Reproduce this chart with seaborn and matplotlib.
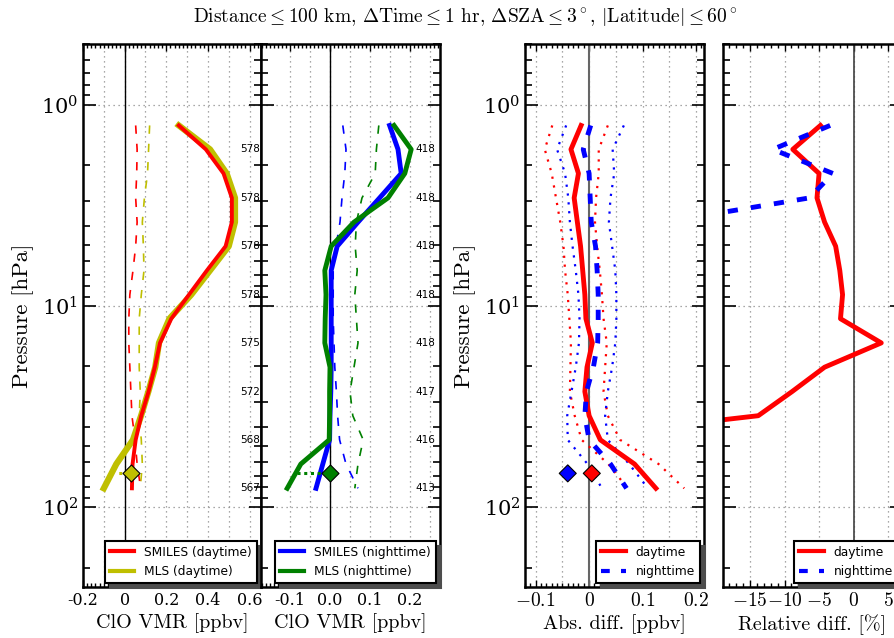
import numpy as np
import seaborn as sns
import matplotlib.pyplot as plt
from matplotlib.lines import Line2D
from matplotlib.ticker import MultipleLocator, LogLocator, NullFormatter

# pressure levels [hPa] of the profiles
pressure = [1.27, 1.67, 2.2, 2.91, 3.84, 5.06, 6.68, 8.81, 11.6, 15.3, 20.2, 26.7, 35.2, 46.4, 61.2, 80.8]

# panel 1: daytime ClO [ppbv]
smiles_day = [0.26, 0.39, 0.475, 0.515, 0.515, 0.485, 0.395, 0.309, 0.224, 0.17, 0.145, 0.115, 0.08, 0.053, 0.038, 0.035]
mls_day = [0.26, 0.41, 0.49, 0.53, 0.53, 0.50, 0.41, 0.32, 0.215, 0.165, 0.147, 0.114, 0.079, 0.04, -0.04, -0.1]
smiles_day_err = [0.053, 0.06, 0.058, 0.053, 0.06, 0.053, 0.04, 0.025, 0.02, 0.02, 0.025, 0.03, 0.035, 0.05, 0.06, 0.077]
mls_day_err = [0.12, 0.115, 0.11, 0.095, 0.085, 0.09, 0.093, 0.08, 0.07, 0.07, 0.07, 0.075, 0.07, 0.08, 0.085, 0.075]
n_day = [578, 578, 578, 578, 575, 572, 568, 567]

# panel 2: nighttime ClO [ppbv]
smiles_night = [0.149, 0.17, 0.178, 0.124, 0.07, 0.018, 0.003, 0.003, 0.003, 0.003, 0.003, 0.002, 0.0, -0.001, -0.018, -0.035]
mls_night = [0.16, 0.203, 0.187, 0.145, 0.06, 0.003, -0.013, -0.01, -0.012, -0.013, 0.0, -0.001, -0.001, -0.002, -0.073, -0.107]
smiles_night_err = [0.032, 0.04, 0.037, 0.03, 0.025, 0.015, 0.008, 0.008, 0.008, 0.01, 0.012, 0.016, 0.019, 0.024, 0.04, 0.07]
mls_night_err = [0.122, 0.116, 0.113, 0.08, 0.066, 0.063, 0.068, 0.062, 0.066, 0.07, 0.06, 0.05, 0.057, 0.083, 0.07, 0.062]
n_night = [418, 418, 418, 418, 418, 417, 416, 413]

# panel 3: absolute difference [ppbv]
abs_day = [-0.015, -0.034, -0.02, -0.028, -0.022, -0.016, -0.012, -0.008, -0.006, 0.006, -0.004, -0.008, 0.0, 0.021, 0.085, 0.125]
abs_day_lo = [-0.069, -0.083, -0.07, -0.062, -0.054, -0.048, -0.045, -0.04, -0.037, -0.034, -0.035, -0.036, -0.027, -0.014, 0.036, 0.072]
abs_day_hi = [0.035, 0.018, 0.018, 0.013, 0.011, 0.015, 0.02, 0.024, 0.027, 0.033, 0.03, 0.027, 0.035, 0.058, 0.13, 0.178]
abs_night = [0.003, -0.011, 0.0, 0.002, 0.004, 0.012, 0.015, 0.017, 0.017, 0.016, 0.008, -0.005, -0.008, 0.0, 0.04, 0.07]
abs_night_lo = [-0.043, -0.06, -0.045, -0.039, -0.036, -0.031, -0.025, -0.02, -0.018, -0.019, -0.025, -0.033, -0.041, -0.04, -0.003, 0.024]
abs_night_hi = [0.065, 0.044, 0.047, 0.04, 0.037, 0.043, 0.049, 0.051, 0.051, 0.049, 0.043, 0.035, 0.03, 0.035, 0.075, 0.11]

# panel 4: relative difference [%]
rel_day = [-4.8, -8.8, -5.0, -5.3, -4.2, -2.6, -2.0, -1.6, -1.9, 4.0, -4.2, -8.9, -13.8, -44.0, np.nan, np.nan]
rel_night = [-3.4, -11.7, -3.0, -6.4, -27.4] + [np.nan] * 11

# values at 68 hPa (diamonds)
p68 = 68.1
mls_day_68 = -0.075
mls_night_68 = -0.083
diamond_p1 = 0.03
diamond_p2 = 0.0
diamond_abs_day = 0.005
diamond_abs_night = -0.04

plt.rcParams['font.family'] = 'DejaVu Serif'
plt.rcParams['mathtext.fontset'] = 'cm'
plt.rcParams['axes.unicode_minus'] = False

fig = plt.figure(figsize=(8.94, 6.38), dpi=100)
W, H = 894.0, 638.0
bot, top = 587, 44


def make_ax(left, right):
    return fig.add_axes([left / W, 1 - bot / H, (right - left) / W, (bot - top) / H])


ax1 = make_ax(83, 261)
ax2 = make_ax(261, 440)
ax3 = make_ax(525, 704)
ax4 = make_ax(723, 902)

dash_thin = (0, (5, 6))
dash_thick = (0, (2.1, 2.7))
dot_style = (0, (1, 3))


def prof(ax, x, color, lw, ls='-'):
    sns.lineplot(x=x, y=pressure, orient='y', sort=False, estimator=None,
                 color=color, linewidth=lw, linestyle=ls, ax=ax)


for ax in (ax1, ax2, ax3, ax4):
    ax.set_yscale('log')

# panel 1
ax1.axvline(0, color='k', lw=1)
prof(ax1, mls_day_err, 'y', 1.2, dash_thin)
prof(ax1, smiles_day_err, 'r', 1.2, dash_thin)
prof(ax1, mls_day, 'y', 4.5)
prof(ax1, smiles_day, 'r', 2.8)
ax1.plot([mls_day_68, diamond_p1], [p68, p68], color='y', lw=2.2, linestyle=(0, (1, 2.2)))
sns.scatterplot(x=[diamond_p1], y=[p68], marker='D', s=75, color='y', edgecolor='k', linewidth=0.8, ax=ax1, zorder=5)
for n, p in zip(n_day, pressure[1::2]):
    ax1.text(0.602, p, str(n), ha='center', va='center', fontsize=7.5, family='DejaVu Sans')

# panel 2
ax2.axvline(0, color='k', lw=1)
prof(ax2, smiles_night_err, 'b', 1.2, dash_thin)
prof(ax2, mls_night_err, 'g', 1.2, dash_thin)
prof(ax2, smiles_night, 'b', 3.5)
prof(ax2, mls_night, 'g', 3.5)
ax2.plot([mls_night_68, diamond_p2], [p68, p68], color='g', lw=2.2, linestyle=(0, (1, 1.2)))
sns.scatterplot(x=[diamond_p2], y=[p68], marker='D', s=75, color='g', edgecolor='k', linewidth=0.8, ax=ax2, zorder=5)
for n, p in zip(n_night, pressure[1::2]):
    ax2.text(0.2375, p, str(n), ha='center', va='center', fontsize=7.5, family='DejaVu Sans')

# panel 3
ax3.axvline(0, color='0.4', lw=1.5)
prof(ax3, abs_day_lo, 'r', 1.6, dot_style)
prof(ax3, abs_day_hi, 'r', 1.6, dot_style)
prof(ax3, abs_night_lo, 'b', 1.6, dot_style)
prof(ax3, abs_night_hi, 'b', 1.6, dot_style)
prof(ax3, abs_day, 'r', 3.5)
prof(ax3, abs_night, 'b', 3.5, dash_thick)
sns.scatterplot(x=[diamond_abs_night, diamond_abs_day], y=[p68, p68], marker='D', s=75,
                color=['b', 'r'], edgecolor='k', linewidth=0.8, ax=ax3, zorder=5)

# panel 4
ax4.axvline(0, color='0.25', lw=1.2)
prof(ax4, rel_day, 'r', 3.5)
prof(ax4, rel_night, 'b', 3.5, dash_thick)

# axes styling
xsetup = [
    (ax1, (-0.2, 0.655), np.round(np.arange(-0.1, 0.61, 0.1), 2), 0.02,
     ['-0.2', '0', '0.2', '0.4', '0.6'], [-0.2, 0.0, 0.2, 0.4, 0.6], 11.5),
    (ax2, (-0.1725, 0.275), np.round(np.arange(-0.1, 0.26, 0.05), 2), 0.01,
     ['-0.1', '0.0', '0.1', '0.2'], [-0.1, 0.0, 0.1, 0.2], 11.5),
    (ax3, (-0.12, 0.215), np.round(np.arange(-0.1, 0.21, 0.05), 2), 0.01,
     ['$-0.1$', '$0$', '$0.1$', '$0.2$'], [-0.1, 0.0, 0.1, 0.2], 14),
    (ax4, (-18.9, 7.0), [-15, -10, -5, 0, 5], 1,
     ['$-15$', '$-10$', '$-5$', '$0$', '$5$'], [-15, -10, -5, 0, 5], 14),
]
for ax, xlim, grid_locs, minor, labels, label_locs, xsize in xsetup:
    ax.set_xlim(*xlim)
    ax.set_ylim(250, 0.5)
    ax.set_xticks(label_locs)
    ax.set_xticklabels(labels)
    ax.xaxis.set_minor_locator(MultipleLocator(minor))
    for g in grid_locs:
        ax.axvline(g, color='0.55', lw=0.9, linestyle=(0, (1, 3)), zorder=0)
    for g in (1, 10, 100):
        ax.axhline(g, color='0.55', lw=0.9, linestyle=(0, (1, 3)), zorder=0)
    ax.yaxis.set_major_locator(LogLocator(base=10, numticks=10))
    ax.yaxis.set_minor_locator(LogLocator(base=10, subs=np.arange(2, 10), numticks=10))
    ax.yaxis.set_minor_formatter(NullFormatter())
    ax.tick_params(which='both', direction='in', top=True, right=True, colors='k')
    ax.tick_params(axis='x', labelsize=xsize)
    ax.tick_params(axis='y', labelsize=15)
    ax.tick_params(axis='y', which='major', length=9, width=1.2)
    ax.tick_params(axis='y', which='minor', length=5, width=1.2)
    ax.tick_params(axis='x', which='major', length=5, width=1)
    ax.tick_params(axis='x', which='minor', length=3, width=1)
    for s in ax.spines.values():
        s.set_linewidth(1.8)
        s.set_color('k')
    ax.set_ylabel('')
    ax.set_facecolor('white')

for ax in (ax2, ax4):
    ax.tick_params(axis='y', labelleft=False)

xlab_kw = dict(fontsize=14.5, family='cmr10', labelpad=3)
ylab_kw = dict(fontsize=16.5, family='cmr10', labelpad=5)
ax1.set_xlabel('ClO VMR [ppbv]', **xlab_kw)
ax2.set_xlabel('ClO VMR [ppbv]', **xlab_kw)
ax3.set_xlabel('Abs. diff. [ppbv]', **xlab_kw)
ax4.set_xlabel('Relative diff. [%]', **xlab_kw)
ax1.set_ylabel('Pressure [hPa]', **ylab_kw)
ax3.set_ylabel('Pressure [hPa]', **ylab_kw)

leg_kw = dict(loc='lower right', fancybox=False, framealpha=1, edgecolor='k',
              borderaxespad=0.35, handlelength=2.0, prop={'family': 'DejaVu Sans', 'size': 8.8},
              shadow={'ox': 3.5, 'oy': -3.5, 'color': '0.3', 'alpha': 1.0})


def legend(ax, items):
    handles = [Line2D([], [], color=c, lw=lw, linestyle=ls) for _, c, lw, ls in items]
    lg = ax.legend(handles, [t for t, _, _, _ in items], **leg_kw)
    lg.get_frame().set_linewidth(1.5)


legend(ax1, [('SMILES (daytime)', 'r', 3, '-'), ('MLS (daytime)', 'y', 3, '-')])
legend(ax2, [('SMILES (nighttime)', 'b', 3, '-'), ('MLS (nighttime)', 'g', 3, '-')])
legend(ax3, [('daytime', 'r', 3, '-'), ('nighttime', 'b', 3, dash_thick)])
legend(ax4, [('daytime', 'r', 3, '-'), ('nighttime', 'b', 3, dash_thick)])

fig.text(465 / W, 1 - 18 / H,
         r'Distance$\leq$100 km, $\Delta$Time$\leq$1 hr, $\Delta$SZA$\leq$3$^\circ$, $|$Latitude$|$$\leq$60$^\circ$',
         ha='center', va='center', fontsize=14, family='cmr10')

fig.savefig('out.png', dpi=100)
